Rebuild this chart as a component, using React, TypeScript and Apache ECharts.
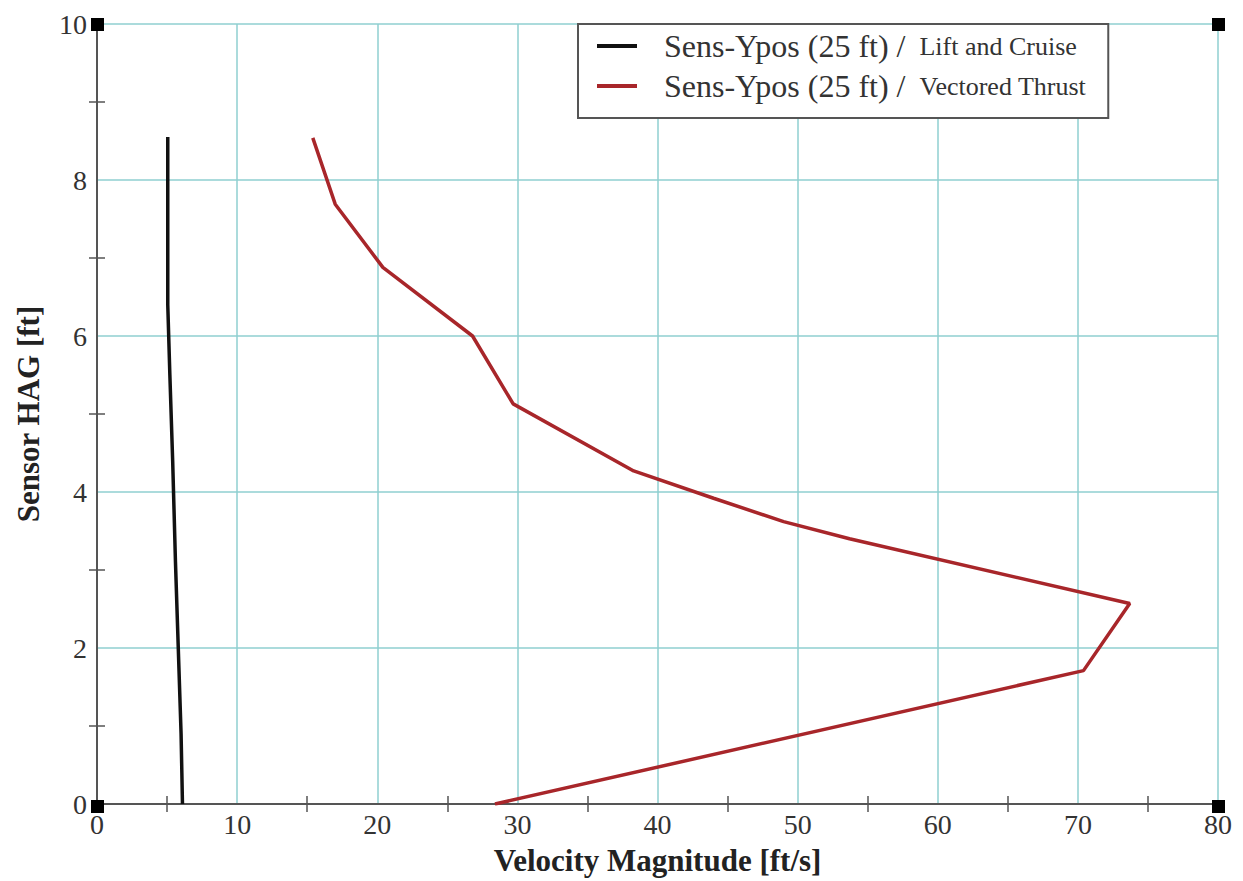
import React, { useEffect, useRef } from "react";
import * as echarts from "echarts";

const liftVelocity = [5.05, 5.05, 5.2, 5.4, 5.6, 5.8, 6.0, 6.1];
const liftHeight = [8.55, 6.4, 5.5, 4.4, 3.1, 2.0, 0.9, 0.0];

const vectoredVelocity = [15.4, 17.0, 20.4, 26.8, 29.7, 38.3, 44.0, 49.0, 53.7, 73.7, 70.4, 28.4];
const vectoredHeight = [8.54, 7.69, 6.88, 6.0, 5.13, 4.27, 3.92, 3.62, 3.4, 2.57, 1.71, 0.0];

const xTicks = [0, 10, 20, 30, 40, 50, 60, 70, 80];
const yTicks = [0, 2, 4, 6, 8, 10];

const seriesNames = ["Sens-Ypos (25 ft) /", "Sens-Ypos (25 ft) /"];
const seriesSuffix = ["Lift and Cruise", "Vectored Thrust"];

const FONT = "Liberation Serif";

export default function App() {
  const ref = useRef<HTMLDivElement>(null);
  useEffect(() => {
    if (!ref.current) return;
    const chart = echarts.init(ref.current, undefined, { renderer: "svg" });
    const L = 97, R = 1218, T = 24, B = 806;
    const axisLine = { show: true, lineStyle: { color: "#555", width: 2 } };
    const minor = { show: true, splitNumber: 2, length: 8, lineStyle: { color: "#555", width: 1.5 } };
    const corner = (x: number, y: number) => ({
      type: "rect",
      shape: { x: x - 6, y: y - 6, width: 13, height: 13 },
      style: { fill: "#000" },
      z: 100,
    });
    chart.setOption({
      animation: false,
      backgroundColor: "#fff",
      grid: { left: L, right: 1243 - R, top: T, bottom: 881 - B, containLabel: false },
      xAxis: [
        {
          type: "value",
          min: 0,
          max: 80,
          interval: 10,
          name: "Velocity Magnitude [ft/s]",
          nameLocation: "middle",
          nameGap: 41,
          nameTextStyle: { fontFamily: FONT, fontSize: 31, fontWeight: "bold", color: "#222" },
          axisLine,
          axisTick: { show: false },
          minorTick: minor,
          splitLine: { show: true, lineStyle: { color: "#8fcfd0", width: 1.5 } },
          axisLabel: {
            color: "#333",
            fontFamily: FONT,
            fontSize: 28,
            margin: 6,
            formatter: (v: number) => (xTicks.includes(v) ? String(v) : ""),
          },
        },
        {
          type: "value",
          position: "top",
          min: 0,
          max: 80,
          interval: 10,
          axisLine,
          axisTick: { show: false },
          minorTick: minor,
          splitLine: { show: false },
          axisLabel: { show: false },
        },
      ],
      yAxis: [
        {
          type: "value",
          min: 0,
          max: 10,
          interval: 2,
          name: "Sensor HAG [ft]",
          nameLocation: "middle",
          nameGap: 53,
          nameTextStyle: { fontFamily: FONT, fontSize: 31, fontWeight: "bold", color: "#222" },
          axisLine,
          axisTick: { show: false },
          minorTick: minor,
          splitLine: { show: true, lineStyle: { color: "#8fcfd0", width: 1.5 } },
          axisLabel: {
            color: "#333",
            fontFamily: FONT,
            fontSize: 28,
            margin: 10,
            formatter: (v: number) => (yTicks.includes(v) ? String(v) : ""),
          },
        },
        {
          type: "value",
          position: "right",
          min: 0,
          max: 10,
          interval: 2,
          axisLine,
          axisTick: { show: false },
          minorTick: minor,
          splitLine: { show: false },
          axisLabel: { show: false },
        },
      ],
      legend: {
        show: true,
        left: 578,
        top: 24,
        orient: "vertical",
        backgroundColor: "#fff",
        borderColor: "#555",
        borderWidth: 2,
        padding: [6, 22, 16, 19],
        itemGap: 8,
        itemWidth: 40,
        itemHeight: 4,
        icon: "rect",
        data: ["lift", "vectored"],
        formatter: (name: string) => {
          const i = name === "lift" ? 0 : 1;
          return `{a|${seriesNames[i]}}{b|${seriesSuffix[i]}}`;
        },
        textStyle: {
          rich: {
            a: { fontFamily: FONT, fontSize: 32, lineHeight: 34, color: "#333", padding: [0, 14, 0, 22] },
            b: { fontFamily: FONT, fontSize: 26, lineHeight: 34, color: "#333" },
          },
        },
      },
      graphic: [corner(L, T), corner(R, T), corner(L, B), corner(R, B)],
      series: [
        {
          name: "lift",
          type: "line",
          data: liftVelocity.map((v, i) => [v, liftHeight[i]]),
          showSymbol: false,
          symbol: "none",
          lineStyle: { color: "#111", width: 3.5 },
          itemStyle: { color: "#111" },
          z: 5,
        },
        {
          name: "vectored",
          type: "line",
          data: vectoredVelocity.map((v, i) => [v, vectoredHeight[i]]),
          showSymbol: false,
          symbol: "none",
          lineStyle: { color: "#a8262a", width: 3.5 },
          itemStyle: { color: "#a8262a" },
          z: 5,
        },
      ],
    });
    return () => chart.dispose();
  }, []);
  return (
    <div
      ref={ref}
      style={{ position: "fixed", left: 0, top: 0, width: 1243, height: 881, background: "#fff" }}
    />
  );
}
